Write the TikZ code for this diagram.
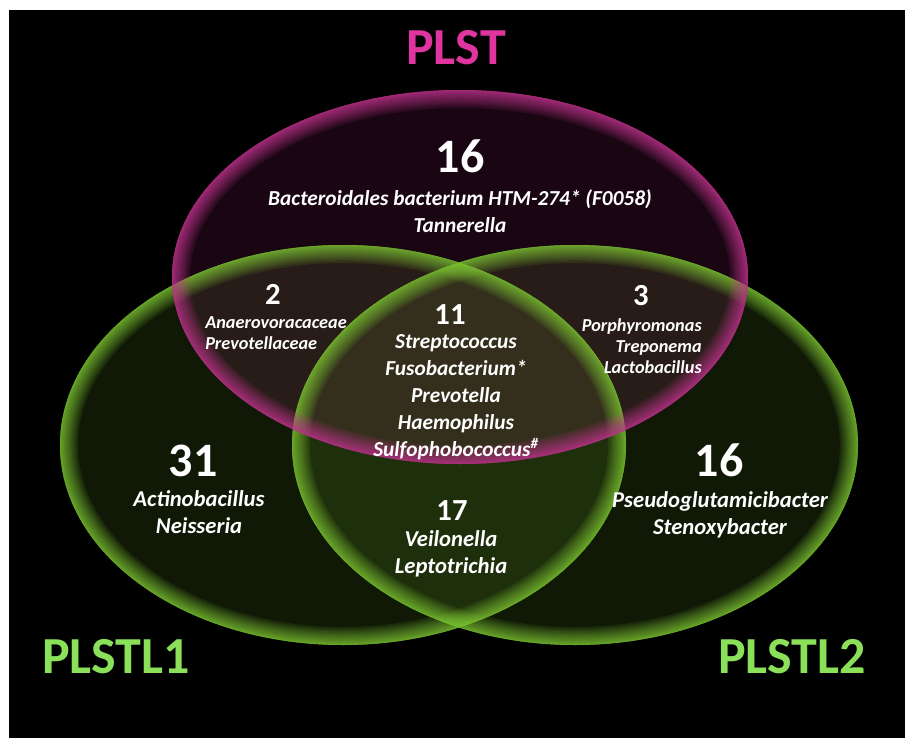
\documentclass[tikz,border=0pt]{standalone}
\usepackage{fontspec}
\setmainfont{Carlito}
\definecolor{rimpink}{HTML}{C2358F}
\definecolor{rimgreen}{HTML}{7DC534}
\definecolor{titlepink}{HTML}{E0359F}
\definecolor{titlegreen}{HTML}{8BE05A}
% one set of the diagram: centre, x radius, y radius, colour
\newcommand{\vennfill}[4]{%
  \fill[#4, opacity=0.13] #1 ellipse [x radius=#2, y radius=#3];}
\newcommand{\vennrim}[4]{%
  \begin{scope}
    \clip #1 ellipse [x radius=#2, y radius=#3];
    \foreach \w in {1,...,15}
      \draw[#4, opacity=0.12, line width=0.12*\w*\w pt] #1 ellipse [x radius=#2, y radius=#3];
  \end{scope}}
\begin{document}
\begin{tikzpicture}[x=0.75pt, y=-0.75pt,
  settitle/.style={font=\bfseries\fontsize{39}{39}\selectfont},
  bignum/.style={text=white, font=\bfseries\fontsize{36}{36}\selectfont},
  smallnum/.style={text=white, font=\bfseries\fontsize{23}{23}\selectfont},
  taxa/.style={text=white, inner sep=0pt, align=center, font=\bfseries\itshape\fontsize{16}{20}\selectfont},
  lowtaxa/.style={taxa, font=\bfseries\itshape\fontsize{17}{20}\selectfont},
  cornertaxa/.style={text=white, inner sep=0pt, font=\bfseries\itshape\fontsize{13.7}{16}\selectfont}]
	\useasboundingbox (0,0) rectangle (905,738);
	\fill[black] (9,10) rectangle (905,738);
	\def \plst{(460,277)}
	\def \lone{(343,445)}
	\def \ltwo{(575,445)}
	\vennfill{\lone}{283}{200}{rimgreen}
	\vennfill{\ltwo}{283}{200}{rimgreen}
	\vennfill{\plst}{288}{187}{rimpink}
	\vennrim{\lone}{283}{200}{rimgreen}
	\vennrim{\ltwo}{283}{200}{rimgreen}
	\vennrim{\plst}{288}{187}{rimpink}
	% set names
	\node[settitle, text=titlepink] (plst) at (456,48) {PLST};
	\node[settitle, text=titlegreen] (plstlone) at (116,657) {PLSTL1};
	\node[settitle, text=titlegreen] (plstltwo) at (792,657) {PLSTL2};
	% PLST only
	\node[bignum] (ntop) at (460,156) {16};
	\node[taxa] (ttop) at (460,211) {Bacteroidales bacterium HTM-274* (F0058)\\Tannerella};
	% PLST and PLSTL1
	\node[smallnum] (nleft) at (273,294) {2};
	\node[cornertaxa, anchor=west, align=left] (tleft) at (205,333) {Anaerovoracaceae\\Prevotellaceae};
	% PLST and PLSTL2
	\node[smallnum] (nright) at (641,296) {3};
	\node[cornertaxa, anchor=east, align=right] (tright) at (702,346) {Porphyromonas\\Treponema\\Lactobacillus};
	% all three
	\node[smallnum] (ncore) at (450,315) {11};
	\node[taxa, font=\bfseries\itshape\fontsize{16}{20.3}\selectfont] (tcore) at (456,397)
		{Streptococcus\\Fusobacterium*\\Prevotella\\Haemophilus\\Sulfophobococcus\textsuperscript{\#}};
	% PLSTL1 only
	\node[bignum] (nlone) at (193,461) {31};
	\node[lowtaxa] (tlone) at (199,512) {Actinobacillus\\Neisseria};
	% PLSTL2 only
	\node[bignum] (nltwo) at (719,460) {16};
	\node[lowtaxa] (tltwo) at (720,515) {Pseudoglutamicibacter\\Stenoxybacter};
	% PLSTL1 and PLSTL2
	\node[smallnum] (nlow) at (452,511) {17};
	\node[lowtaxa] (tlow) at (451,554) {Veilonella\\Leptotrichia};
\end{tikzpicture}
\end{document}
